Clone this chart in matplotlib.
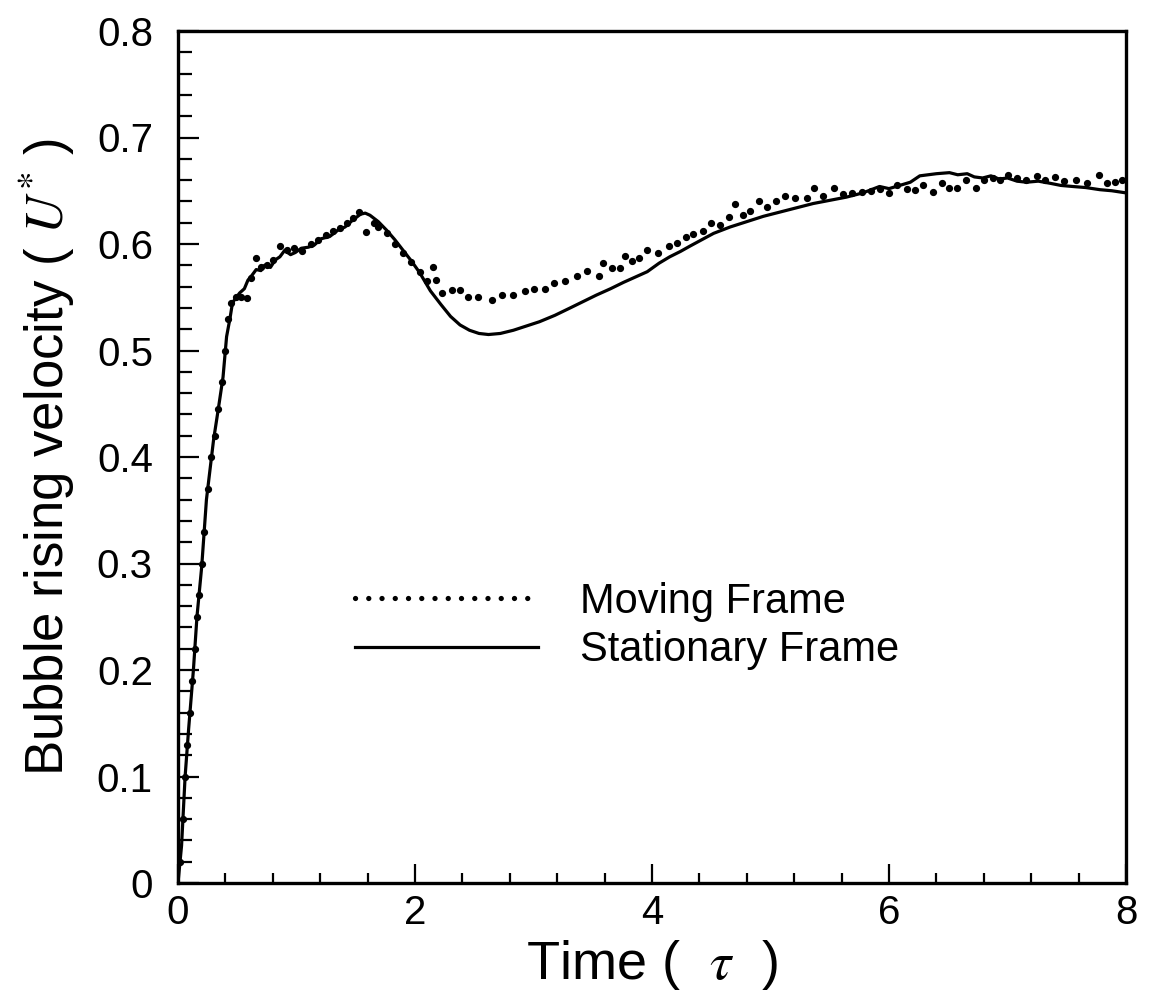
import matplotlib
matplotlib.use("Agg")
import matplotlib.pyplot as plt
from matplotlib.lines import Line2D
from matplotlib.ticker import MultipleLocator

plt.rcParams['font.family'] = ['Liberation Sans', 'DejaVu Sans']
plt.rcParams['mathtext.fontset'] = 'stix'

# Stationary frame (solid line)
t_stat = [0.0, 0.03, 0.06, 0.09, 0.13, 0.16, 0.20, 0.24, 0.30, 0.34, 0.38, 0.41, 0.44, 0.46,
          0.52, 0.56, 0.59, 0.62, 0.66, 0.70, 0.73, 0.78, 0.82, 0.86, 0.90, 0.95, 0.99, 1.04, 1.10,
          1.15, 1.21, 1.28, 1.35, 1.41, 1.47, 1.54, 1.58, 1.62, 1.69, 1.76, 1.83, 1.90, 1.97,
          2.04, 2.13, 2.22, 2.30, 2.38, 2.46, 2.54, 2.62, 2.72, 2.83, 2.94, 3.05, 3.18, 3.31,
          3.42, 3.53, 3.65, 3.76, 3.86, 3.96, 4.06, 4.15, 4.24, 4.32, 4.42, 4.52, 4.66, 4.80,
          4.94, 5.08, 5.22, 5.36, 5.50, 5.64, 5.78, 5.92, 6.00, 6.09, 6.18, 6.26, 6.33, 6.40,
          6.51, 6.58, 6.66, 6.72, 6.79, 6.86, 6.93, 7.00, 7.08, 7.16, 7.26, 7.36, 7.45, 7.55,
          7.66, 7.78, 7.88, 8.00]
v_stat = [0.0, 0.035, 0.100, 0.145, 0.200, 0.250, 0.297, 0.360, 0.416, 0.445, 0.475, 0.513, 0.531, 0.545,
          0.554, 0.558, 0.566, 0.570, 0.576, 0.575, 0.580, 0.578, 0.585, 0.588, 0.594, 0.590, 0.592, 0.596, 0.597,
          0.599, 0.605, 0.607, 0.613, 0.616, 0.622, 0.628, 0.629, 0.627, 0.621, 0.613, 0.604, 0.594, 0.584,
          0.573, 0.556, 0.543, 0.532, 0.524, 0.519, 0.516, 0.515, 0.516, 0.519, 0.523, 0.527, 0.533, 0.540,
          0.546, 0.552, 0.558, 0.564, 0.569, 0.574, 0.582, 0.588, 0.593, 0.598, 0.604, 0.610, 0.616, 0.621,
          0.626, 0.630, 0.634, 0.638, 0.641, 0.644, 0.648, 0.654, 0.652, 0.655, 0.658, 0.664, 0.665, 0.666,
          0.667, 0.665, 0.666, 0.663, 0.662, 0.664, 0.661, 0.662, 0.659, 0.658, 0.659, 0.657, 0.655, 0.654,
          0.653, 0.651, 0.650, 0.648]

# Moving frame (dots)
t_move = [0.02, 0.04, 0.06, 0.08, 0.10, 0.12, 0.14, 0.16, 0.18, 0.20, 0.22, 0.25, 0.28, 0.31, 0.34,
          0.37, 0.40, 0.42, 0.45, 0.49, 0.53, 0.58, 0.62, 0.66, 0.70, 0.75, 0.80, 0.86, 0.92, 0.98,
          1.05, 1.12, 1.18, 1.25, 1.31, 1.37, 1.43, 1.48, 1.53, 1.59, 1.65, 1.69, 1.76, 1.83, 1.90,
          1.97, 2.04, 2.10, 2.15, 2.18, 2.23, 2.31, 2.38, 2.45, 2.53, 2.65, 2.73, 2.83, 2.93, 3.00,
          3.10, 3.17, 3.27, 3.37, 3.45, 3.55, 3.59, 3.66, 3.73, 3.77, 3.83, 3.89, 3.96, 4.05, 4.14,
          4.21, 4.29, 4.35, 4.43, 4.50, 4.57, 4.65, 4.70, 4.77, 4.83, 4.90, 4.97, 5.05, 5.12, 5.21,
          5.31, 5.37, 5.44, 5.54, 5.61, 5.69, 5.77, 5.85, 5.92, 6.00, 6.07, 6.15, 6.22, 6.29, 6.37,
          6.45, 6.51, 6.57, 6.65, 6.73, 6.80, 6.88, 6.94, 7.00, 7.08, 7.16, 7.25, 7.32, 7.40, 7.48,
          7.58, 7.67, 7.77, 7.84, 7.91, 7.97]
v_move = [0.02, 0.06, 0.10, 0.13, 0.16, 0.19, 0.22, 0.25, 0.27, 0.30, 0.33, 0.37, 0.40, 0.42, 0.445,
          0.47, 0.50, 0.53, 0.545, 0.55, 0.55, 0.549, 0.568, 0.587, 0.578, 0.580, 0.585, 0.598, 0.594, 0.596,
          0.593, 0.600, 0.604, 0.608, 0.612, 0.615, 0.620, 0.624, 0.630, 0.611, 0.620, 0.616, 0.610, 0.600, 0.592,
          0.583, 0.574, 0.565, 0.578, 0.566, 0.554, 0.557, 0.557, 0.550, 0.550, 0.547, 0.552, 0.552, 0.556, 0.558,
          0.558, 0.563, 0.565, 0.570, 0.575, 0.570, 0.582, 0.577, 0.577, 0.589, 0.584, 0.587, 0.594, 0.592, 0.598,
          0.601, 0.607, 0.609, 0.612, 0.620, 0.618, 0.625, 0.638, 0.627, 0.631, 0.640, 0.635, 0.640, 0.645, 0.643,
          0.643, 0.653, 0.645, 0.653, 0.647, 0.648, 0.649, 0.650, 0.652, 0.648, 0.655, 0.652, 0.651, 0.655, 0.649,
          0.657, 0.653, 0.653, 0.660, 0.653, 0.660, 0.662, 0.660, 0.665, 0.662, 0.660, 0.664, 0.660, 0.663, 0.659,
          0.660, 0.657, 0.665, 0.657, 0.658, 0.660]

labels = ["Moving Frame", "Stationary Frame"]
xlabel = r"Time (  $\tau$  )"
ylabel = r"Bubble rising velocity ( $U^{*}$ )"
x_ticks = [0, 2, 4, 6, 8]
y_ticks = [0, 0.1, 0.2, 0.3, 0.4, 0.5, 0.6, 0.7, 0.8]

fig = plt.figure(figsize=(11.5, 9.99), dpi=100)
ax = fig.add_axes([178/1150, 1 - 883/999, (1126-178)/1150, (883-31)/999])

ax.plot(t_stat, v_stat, color='black', lw=2.3, solid_joinstyle='round')
ax.plot(t_move, v_move, linestyle='none', marker='o', ms=4.2, color='black', mec='black')

ax.set_xlim(0, 8)
ax.set_ylim(0, 0.8)
ax.set_xticks(x_ticks)
ax.set_xticklabels([str(v) for v in x_ticks])
ax.set_yticks(y_ticks)
ax.set_yticklabels(['0'] + ['%.1f' % v for v in y_ticks[1:]])
ax.xaxis.set_minor_locator(MultipleLocator(0.4))
ax.yaxis.set_minor_locator(MultipleLocator(0.02))

ax.tick_params(which='both', direction='in', top=False, right=False, width=1.6, colors='black')
ax.tick_params(axis='x', which='major', length=14, pad=8, labelsize=29)
ax.tick_params(axis='x', which='minor', length=7)
ax.tick_params(axis='y', which='major', length=15, pad=18, labelsize=29)
ax.tick_params(axis='y', which='minor', length=10)

for s in ax.spines.values():
    s.set_linewidth(2.4)
    s.set_color('black')

ax.set_xlabel(xlabel, fontsize=39, labelpad=4)
ax.set_ylabel(ylabel, fontsize=38, labelpad=14)

handles = [Line2D([], [], color='black', linestyle=(0, (0.01, 2.5)), lw=3.8, dash_capstyle='round'),
           Line2D([], [], color='black', lw=2.3)]
fig.legend(handles, labels, loc='upper left', bbox_to_anchor=(355/1150, 1 - 582/999),
           frameon=False, fontsize=30, handlelength=4.4, handletextpad=1.0,
           labelspacing=0.2, borderpad=0, borderaxespad=0)

fig.savefig('out.png', dpi=100, facecolor='white')
